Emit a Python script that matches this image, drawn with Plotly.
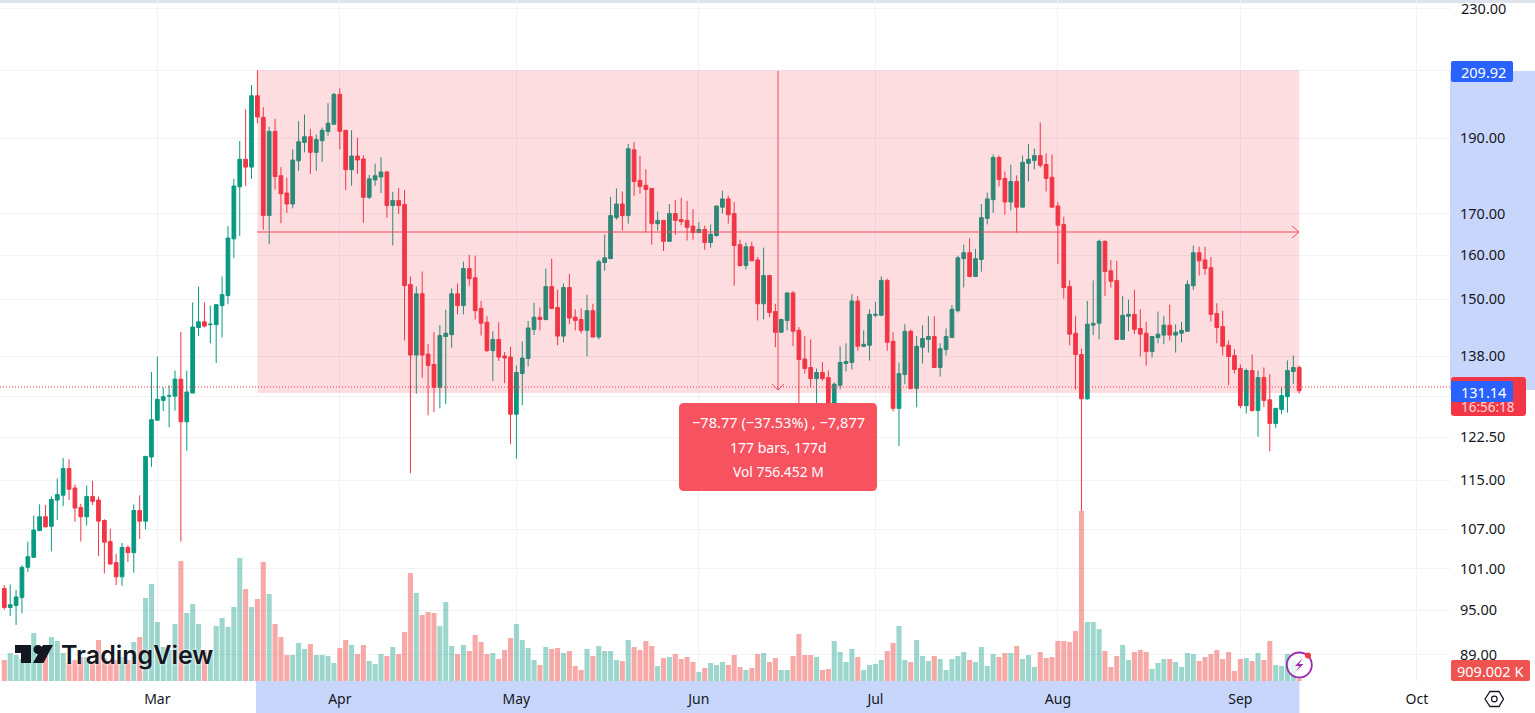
import numpy as np
import pandas as pd
import plotly.graph_objects as go

first_day = "2024-02-04"

opens = [
 98.1,95.4,95.7,96.8,101.2,102.7,106.8,109.0,107.5,111.7,
 112.5,117.0,113.7,110.5,109.0,112.3,111.7,108.4,105.1,101.9,
 99.8,104.2,103.4,110.0,108.3,119.0,125.6,129.3,130.1,130.1,
 133.4,125.3,130.7,143.9,145.1,144.5,144.5,148.6,150.8,163.9,
 176.9,184.2,182.1,202.2,195.9,169.6,191.9,179.8,175.3,172.5,
 183.8,188.8,190.4,186.1,189.3,191.9,193.9,202.6,192.2,181.4,
 185.1,184.3,174.2,178.7,179.5,180.8,172.1,173.4,172.4,153.3,
 138.2,151.2,138.4,136.3,131.8,142.0,142.4,151.2,148.6,156.9,
 154.8,148.0,145.0,139.1,141.4,138.0,137.8,126.7,134.5,137.5,
 143.5,146.1,145.6,152.8,148.2,142.1,152.6,146.1,145.6,143.3,
 147.5,141.9,158.3,159.2,169.1,172.5,169.6,186.8,178.6,177.3,
 176.5,167.6,168.4,163.3,170.1,168.6,168.4,167.0,165.4,166.2,
 163.0,164.7,171.7,173.8,170.1,162.5,157.6,162.0,158.9,149.0,
 155.3,147.3,142.9,145.4,151.4,143.3,137.4,135.7,133.5,134.7,
 133.7,128.2,132.2,136.5,136.7,149.6,140.0,140.2,146.5,146.5,
 154.2,141.0,127.8,134.3,143.1,131.6,139.8,141.4,142.0,135.7,
 139.3,141.8,147.5,159.2,160.6,155.1,159.0,168.9,173.6,184.7,
 179.1,173.0,178.3,171.7,183.1,183.9,185.2,182.8,179.4,172.0,
 167.4,152.8,142.7,138.3,129.6,144.4,144.8,163.3,156.4,154.2,
 141.4,146.3,146.7,143.7,142.7,138.9,141.8,142.3,144.4,142.3,
 142.7,143.1,153.0,160.6,158.9,157.1,146.9,144.1,140.2,138.1,
 135.5,128.3,135.1,127.4,133.7,129.4,125.0,127.6,130.0,134.9,135.7]

highs = [
 98.6,98.7,97.9,101.5,105.1,109.2,111.0,110.9,112.3,115.3,
 118.8,118.6,114.3,111.1,114.1,114.9,112.3,108.6,107.1,103.2,
 104.9,104.5,111.0,112.5,119.1,134.8,137.9,131.8,132.2,135.1,
 143.0,135.1,149.3,152.8,149.3,148.6,148.8,155.1,167.0,179.0,
 189.2,198.2,205.4,209.92,198.8,193.2,195.5,182.1,179.3,186.9,
 194.8,196.7,192.6,191.0,193.0,200.0,203.1,204.4,192.2,192.2,
 190.1,185.3,180.0,183.0,184.8,181.1,175.6,176.6,176.1,155.1,
 152.8,156.2,140.5,142.9,144.4,147.7,152.4,153.5,158.5,160.1,
 159.9,149.6,146.3,143.1,145.0,138.8,139.9,136.1,141.0,145.3,
 149.2,148.2,156.9,159.2,152.1,153.5,155.7,147.8,148.0,151.0,
 149.0,159.0,164.9,174.3,176.5,175.7,188.4,188.9,185.2,181.5,
 176.5,170.6,168.4,172.5,173.5,174.1,173.3,171.2,168.0,167.1,
 167.4,172.0,175.9,174.6,173.0,163.7,163.0,163.2,159.6,161.8,
 155.3,149.0,145.8,151.4,151.8,144.0,142.1,141.4,135.5,136.8,
 135.1,132.8,140.0,140.6,151.1,150.7,143.3,147.8,149.4,155.1,
 154.6,142.9,136.7,144.6,143.5,142.1,144.4,146.3,146.3,140.6,
 143.7,148.7,159.9,162.5,164.0,161.5,172.5,175.4,185.5,185.2,
 180.9,182.8,179.9,185.2,188.4,187.1,194.4,185.8,185.5,173.0,
 169.3,154.2,146.3,139.5,149.6,154.2,163.7,163.5,158.9,158.7,
 150.7,149.9,152.1,147.8,145.1,142.0,147.3,146.3,148.8,144.6,
 145.1,154.2,162.3,162.0,162.0,159.6,149.1,147.5,141.2,139.4,
 136.3,135.5,138.3,135.1,135.7,134.4,127.8,131.8,137.1,138.1,136.1]

lows = [
 95.1,94.2,93.0,94.6,100.5,102.7,106.8,107.3,103.6,108.5,
 110.7,111.7,108.2,105.1,107.6,110.9,102.9,100.3,101.6,98.6,
 98.5,102.0,100.4,105.5,107.0,117.3,125.6,127.3,124.3,127.4,
 105.1,120.1,130.7,142.1,143.9,140.6,136.6,141.8,148.9,159.4,
 164.6,177.1,179.0,194.2,166.1,162.6,176.2,167.7,170.3,171.4,
 181.1,186.1,180.3,181.1,183.5,190.7,193.9,186.9,176.1,177.2,
 180.3,167.8,173.7,177.2,175.3,169.0,162.3,170.0,141.2,116.2,
 130.6,133.7,126.5,127.1,127.8,128.6,139.7,146.7,146.7,153.0,
 145.6,142.2,138.8,133.0,137.0,132.6,121.3,118.7,128.4,135.9,
 142.3,143.3,145.4,147.8,140.2,140.8,144.6,143.3,142.7,137.9,
 141.9,141.4,156.4,159.2,168.6,165.9,167.6,174.6,175.1,165.4,
 162.5,165.9,161.0,163.3,164.9,167.2,163.5,163.7,165.4,161.3,
 161.8,164.4,170.1,167.6,153.0,157.3,156.7,158.7,145.4,145.6,
 146.1,139.8,142.9,143.3,140.0,127.0,134.5,131.8,128.2,133.1,
 127.5,127.5,131.4,134.9,135.3,139.1,139.8,137.1,146.1,146.3,
 139.1,127.2,120.9,132.4,131.4,128.0,136.5,138.7,135.7,133.9,
 138.1,141.8,147.1,152.6,154.9,155.1,156.2,167.4,170.3,177.0,
 169.8,170.9,165.4,171.7,178.3,181.5,182.0,175.7,171.7,157.9,
 150.1,140.2,131.4,109.9,129.4,142.3,141.4,150.7,152.6,141.4,
 141.4,143.1,142.5,137.9,136.1,137.7,140.6,140.4,141.2,138.7,
 140.8,143.1,152.1,155.3,155.5,145.2,140.6,138.1,132.2,134.5,
 127.8,126.8,127.2,122.6,128.0,120.0,124.2,126.7,127.0,132.5,130.6]

closes = [
 95.4,95.8,96.9,101.2,102.8,106.9,109.0,107.4,111.8,112.6,
 117.0,113.5,110.4,109.0,112.3,111.5,108.3,105.0,101.7,99.8,
 104.2,103.4,110.0,108.3,119.1,125.7,129.5,130.0,130.2,133.4,
 125.3,130.9,144.0,145.1,144.2,144.6,148.8,151.0,164.1,177.1,
 184.2,182.1,202.2,196.0,169.6,191.9,179.6,175.1,172.5,184.0,
 189.0,190.4,186.1,189.6,192.2,194.2,202.6,191.9,181.4,185.1,
 184.0,174.2,179.0,179.8,180.8,172.1,173.4,172.1,153.0,138.2,
 151.2,138.2,136.1,131.8,142.2,142.7,151.2,148.6,156.9,154.6,
 147.5,144.8,139.1,141.4,137.8,137.6,126.7,134.7,137.6,143.8,
 146.1,145.6,152.8,148.0,142.1,152.6,145.9,145.4,143.3,147.5,
 141.9,158.5,159.4,169.6,172.5,169.6,187.1,178.3,177.0,176.2,
 167.6,168.4,163.3,170.1,168.4,168.1,166.7,165.4,166.2,163.0,
 165.0,172.0,173.8,169.8,162.3,157.6,162.0,158.7,149.0,155.3,
 147.1,142.9,145.6,151.4,143.1,137.3,135.5,133.5,134.7,133.5,
 128.2,132.4,136.7,136.9,149.6,140.0,140.4,146.7,146.7,154.2,
 140.8,127.8,134.5,143.1,131.6,140.0,141.6,142.0,135.7,139.5,
 142.0,147.8,159.4,160.6,155.1,159.2,169.1,173.8,184.7,178.8,
 173.0,178.3,171.7,183.4,184.2,185.2,182.6,179.1,171.7,167.2,
 152.6,142.5,138.3,129.6,144.6,144.8,163.3,156.2,154.0,141.4,
 146.5,146.7,143.5,142.5,138.9,142.0,142.5,144.4,142.3,142.9,
 143.3,153.3,160.6,158.7,156.9,146.7,143.9,140.0,137.9,135.3,
 128.3,135.1,127.4,133.7,129.3,125.0,127.8,130.2,135.1,135.7,131.14]

volumes = [
 21,28,26,22,18,48,30,25,44,40,
 28,18,21,24,24,19,41,23,18,21,
 24,21,39,44,83,97,59,34,31,57,
 120,68,77,57,31,31,55,63,54,74,
 123,92,74,82,119,87,57,44,26,26,
 38,32,37,26,26,25,18,33,41,36,
 27,36,20,17,27,25,34,27,49,108,
 88,66,69,68,55,79,35,27,36,30,
 46,39,27,28,22,31,43,57,41,33,
 21,16,34,32,33,28,30,15,11,32,
 25,35,30,30,21,20,41,34,31,40,
 35,15,23,24,27,22,24,19,9,13,
 18,16,19,16,26,14,11,13,27,28,
 19,23,11,11,25,47,26,26,24,11,
 12,40,29,19,32,24,11,16,17,21,
 30,38,55,21,19,41,25,20,25,22,
 11,22,25,29,21,19,34,15,27,24,
 28,28,35,22,26,14,29,23,24,40,
 40,39,50,170,59,59,52,30,14,25,
 36,21,29,31,29,12,18,22,22,19,
 14,28,27,20,24,27,31,22,29,10,
 22,23,20,28,21,40,16,15,27,21,2]

month_ticks = ["2024-03-01","2024-04-01","2024-05-01","2024-06-01","2024-07-01","2024-08-01","2024-09-01","2024-10-01"]
month_labels = ["Mar","Apr","May","Jun","Jul","Aug","Sep","Oct"]
price_ticks = [230,209.92,190,170,160,150,138,130,122.5,115,107,101,95,89]
price_labels = ["","","190.00","170.00","160.00","150.00","138.00","","122.50","115.00","107.00","101.00","95.00","89.00"]
top_price_label = "230.00"

assert all(len(s) == 221 for s in (opens, highs, lows, closes, volumes))

W, H = 1535, 713
PW, PH = 1450, 681
def px(x): return x / PW
def py(y): return 1 - y / PH

dates = pd.date_range(first_day, periods=len(opens), freq="D")
GREEN, RED = "#089981", "#F23645"
vol_colors = ["rgba(8,153,129,0.4)" if c >= o else "rgba(239,83,80,0.5)" for o, c in zip(opens, closes)]

fig = go.Figure()
fig.add_trace(go.Bar(x=dates, y=volumes, marker=dict(color=vol_colors, line_width=0), yaxis="y", hoverinfo="skip"))
fig.add_trace(go.Candlestick(
    x=dates, open=opens, high=highs, low=lows, close=closes, yaxis="y2",
    increasing=dict(line=dict(color=GREEN, width=1), fillcolor=GREEN),
    decreasing=dict(line=dict(color=RED, width=1), fillcolor=RED),
))

def rounded(x0, y0, x1, y1, r):
    a, b, c, d = px(x0), py(y0), px(x1), py(y1)
    rx, ry = r / PW, r / PH
    return (f"M{a+rx},{b} L{c-rx},{b} Q{c},{b} {c},{b-ry} L{c},{d+ry} Q{c},{d} {c-rx},{d} "
            f"L{a+rx},{d} Q{a},{d} {a},{d+ry} L{a},{b-ry} Q{a},{b} {a+rx},{b} Z")

def poly(pts):
    return "M" + " L".join(f"{px(x)},{py(y)}" for x, y in pts)

pp = dict(xref="paper", yref="paper")
shapes = []
def rect(x0, y0, x1, y1, color, layer="below"):
    shapes.append(dict(type="rect", x0=px(x0), x1=px(x1), y0=py(y0), y1=py(y1), fillcolor=color, line_width=0, layer=layer, **pp))
def path(d, fill="rgba(0,0,0,0)", line=None, width=1, layer="above"):
    shapes.append(dict(type="path", path=d, fillcolor=fill, line=dict(color=line or "rgba(0,0,0,0)", width=width if line else 0), layer=layer, **pp))
def circle(cx, cy, r, fill, line=None, width=0):
    shapes.append(dict(type="circle", x0=px(cx-r), x1=px(cx+r), y0=py(cy+r), y1=py(cy-r), fillcolor=fill,
                       line=dict(color=line or fill, width=width), layer="above", **pp))

rect(0, 0, W, 3, "#dfe3ee")
rect(1450, 71, W, 390, "#c9d6fc")
rect(256, 681, 1299.5, H, "#c9d6fc")

# measurement range
shapes.append(dict(type="rect", xref="x", yref="y2", x0=dates[43], x1=dates[220], y0=130.7, y1=209.92,
                   fillcolor="rgba(242,54,69,0.17)", line_width=0, layer="above"))
LINE = "rgba(238,70,84,0.95)"
path(poly([(257, 232), (1299, 232)]), line=LINE)
path(poly([(1292, 226), (1299, 232), (1292, 238)]), line=LINE)
path(poly([(778, 71), (778, 390)]), line=LINE)
path(poly([(772, 384), (778, 390), (784, 384)]), line=LINE)
shapes.append(dict(type="line", x0=0, x1=1, y0=py(387), y1=py(387), line=dict(color=RED, width=1, dash="1px,2px"), layer="above", **pp))

# tooltip and price scale labels
path(rounded(679, 403, 877, 491, 5), fill="#f7525f")
path(rounded(1451, 377, 1526, 416, 3), fill=RED)
path(rounded(1451, 381, 1513, 402, 2), fill="#2962ff")
path(rounded(1451, 61, 1513, 82, 2), fill="#2962ff")
path(rounded(1451, 660, 1530, 681, 2), fill="#ef5350")

# TradingView mark
DARK = "#131722"
path(poly([(15, 645), (31, 645), (31, 663), (21, 663), (21, 653), (15, 653)]) + " Z", fill=DARK)
circle(38, 649.5, 4.5, DARK)
path(poly([(43, 645), (53, 645), (43.5, 663), (33, 663)]) + " Z", fill=DARK)

# lightning badge
circle(1299.3, 665, 12.5, "rgba(255,255,255,0.75)", "#9c27b0", 1.8)
path(poly([(1303, 658), (1295, 666), (1299.5, 666), (1295.5, 672), (1303.5, 664), (1299, 664)]) + " Z", fill="#9c27b0")
circle(1308, 655.5, 3, RED)

# settings icon
path(poly([(1485, 699), (1490, 691.5), (1499, 691.5), (1503.5, 699), (1499, 706.5), (1490, 706.5)]) + " Z", line="#131722", width=1.3)
circle(1494.3, 699, 2.8, "rgba(0,0,0,0)", "#131722", 1.2)

FONT = "Noto Sans"
def label(x, y, text, size=14, color="#ffffff", anchor="center", **font):
    return dict(x=px(x), y=py(y), text=text, showarrow=False, xanchor=anchor, yanchor="middle",
                font=dict(family=FONT, size=size, color=color, **font), **pp)

annotations = [
    label(1484, 8, top_price_label, 14.5, "#131722"),
    label(778, 422, "−78.77 (−37.53%) , −7,877", 14.6),
    label(778, 447, "177 bars, 177d", 14),
    label(778, 472, "Vol 756.452 M", 13.8),
    label(1484, 72, "209.92", 14.5),
    label(1484, 391.5, "131.14", 14.5),
    label(1488, 407, "16:56:18", 13.5, "#ffd9dc"),
    label(1490, 671, "909.002 K", 14.5),
    dict(x=px(59), y=py(655), text="TradingView", showarrow=False, xanchor="left", yanchor="middle",
         font=dict(family="Inter", size=25, color=DARK, weight=600, shadow="0 0 3px #ffffff"), **pp),
]

ylo = 230 * np.exp(-(PH - 8) / 681.3)
yhi = 230 * np.exp(8 / 681.3)
x0 = pd.Timestamp(first_day) + pd.Timedelta(days=-4.3 / 5.886)
x1 = pd.Timestamp(first_day) + pd.Timedelta(days=(PW - 4.3) / 5.886)

GRID = "#f0f2f7"
fig.update_layout(
    width=W, height=H, autosize=False,
    margin=dict(l=0, r=W - PW, t=0, b=H - PH),
    paper_bgcolor="#ffffff", plot_bgcolor="#ffffff",
    showlegend=False, bargap=0.14, boxgap=0.1, dragmode=False,
    font=dict(family=FONT, color="#131722", size=14),
    xaxis=dict(type="date", range=[x0, x1], rangeslider=dict(visible=False), tickmode="array",
               tickvals=month_ticks, ticktext=month_labels, showgrid=True, gridcolor=GRID, gridwidth=1,
               zeroline=False, showline=False, ticks="", ticklabelstandoff=8, tickfont=dict(size=14, color="#131722")),
    yaxis=dict(range=[0, PH], visible=False, fixedrange=True),
    yaxis2=dict(type="log", overlaying="y", side="right", range=[np.log10(ylo), np.log10(yhi)],
                tickmode="array", tickvals=price_ticks, ticktext=price_labels,
                showgrid=True, gridcolor=GRID, gridwidth=1, zeroline=False, showline=False, ticks="",
                ticklabelstandoff=9, tickfont=dict(size=14.5, color="#131722")),
    shapes=shapes, annotations=annotations,
)

fig.write_html("out.html", config=dict(displayModeBar=False), post_script="document.body.style.margin='0';")
